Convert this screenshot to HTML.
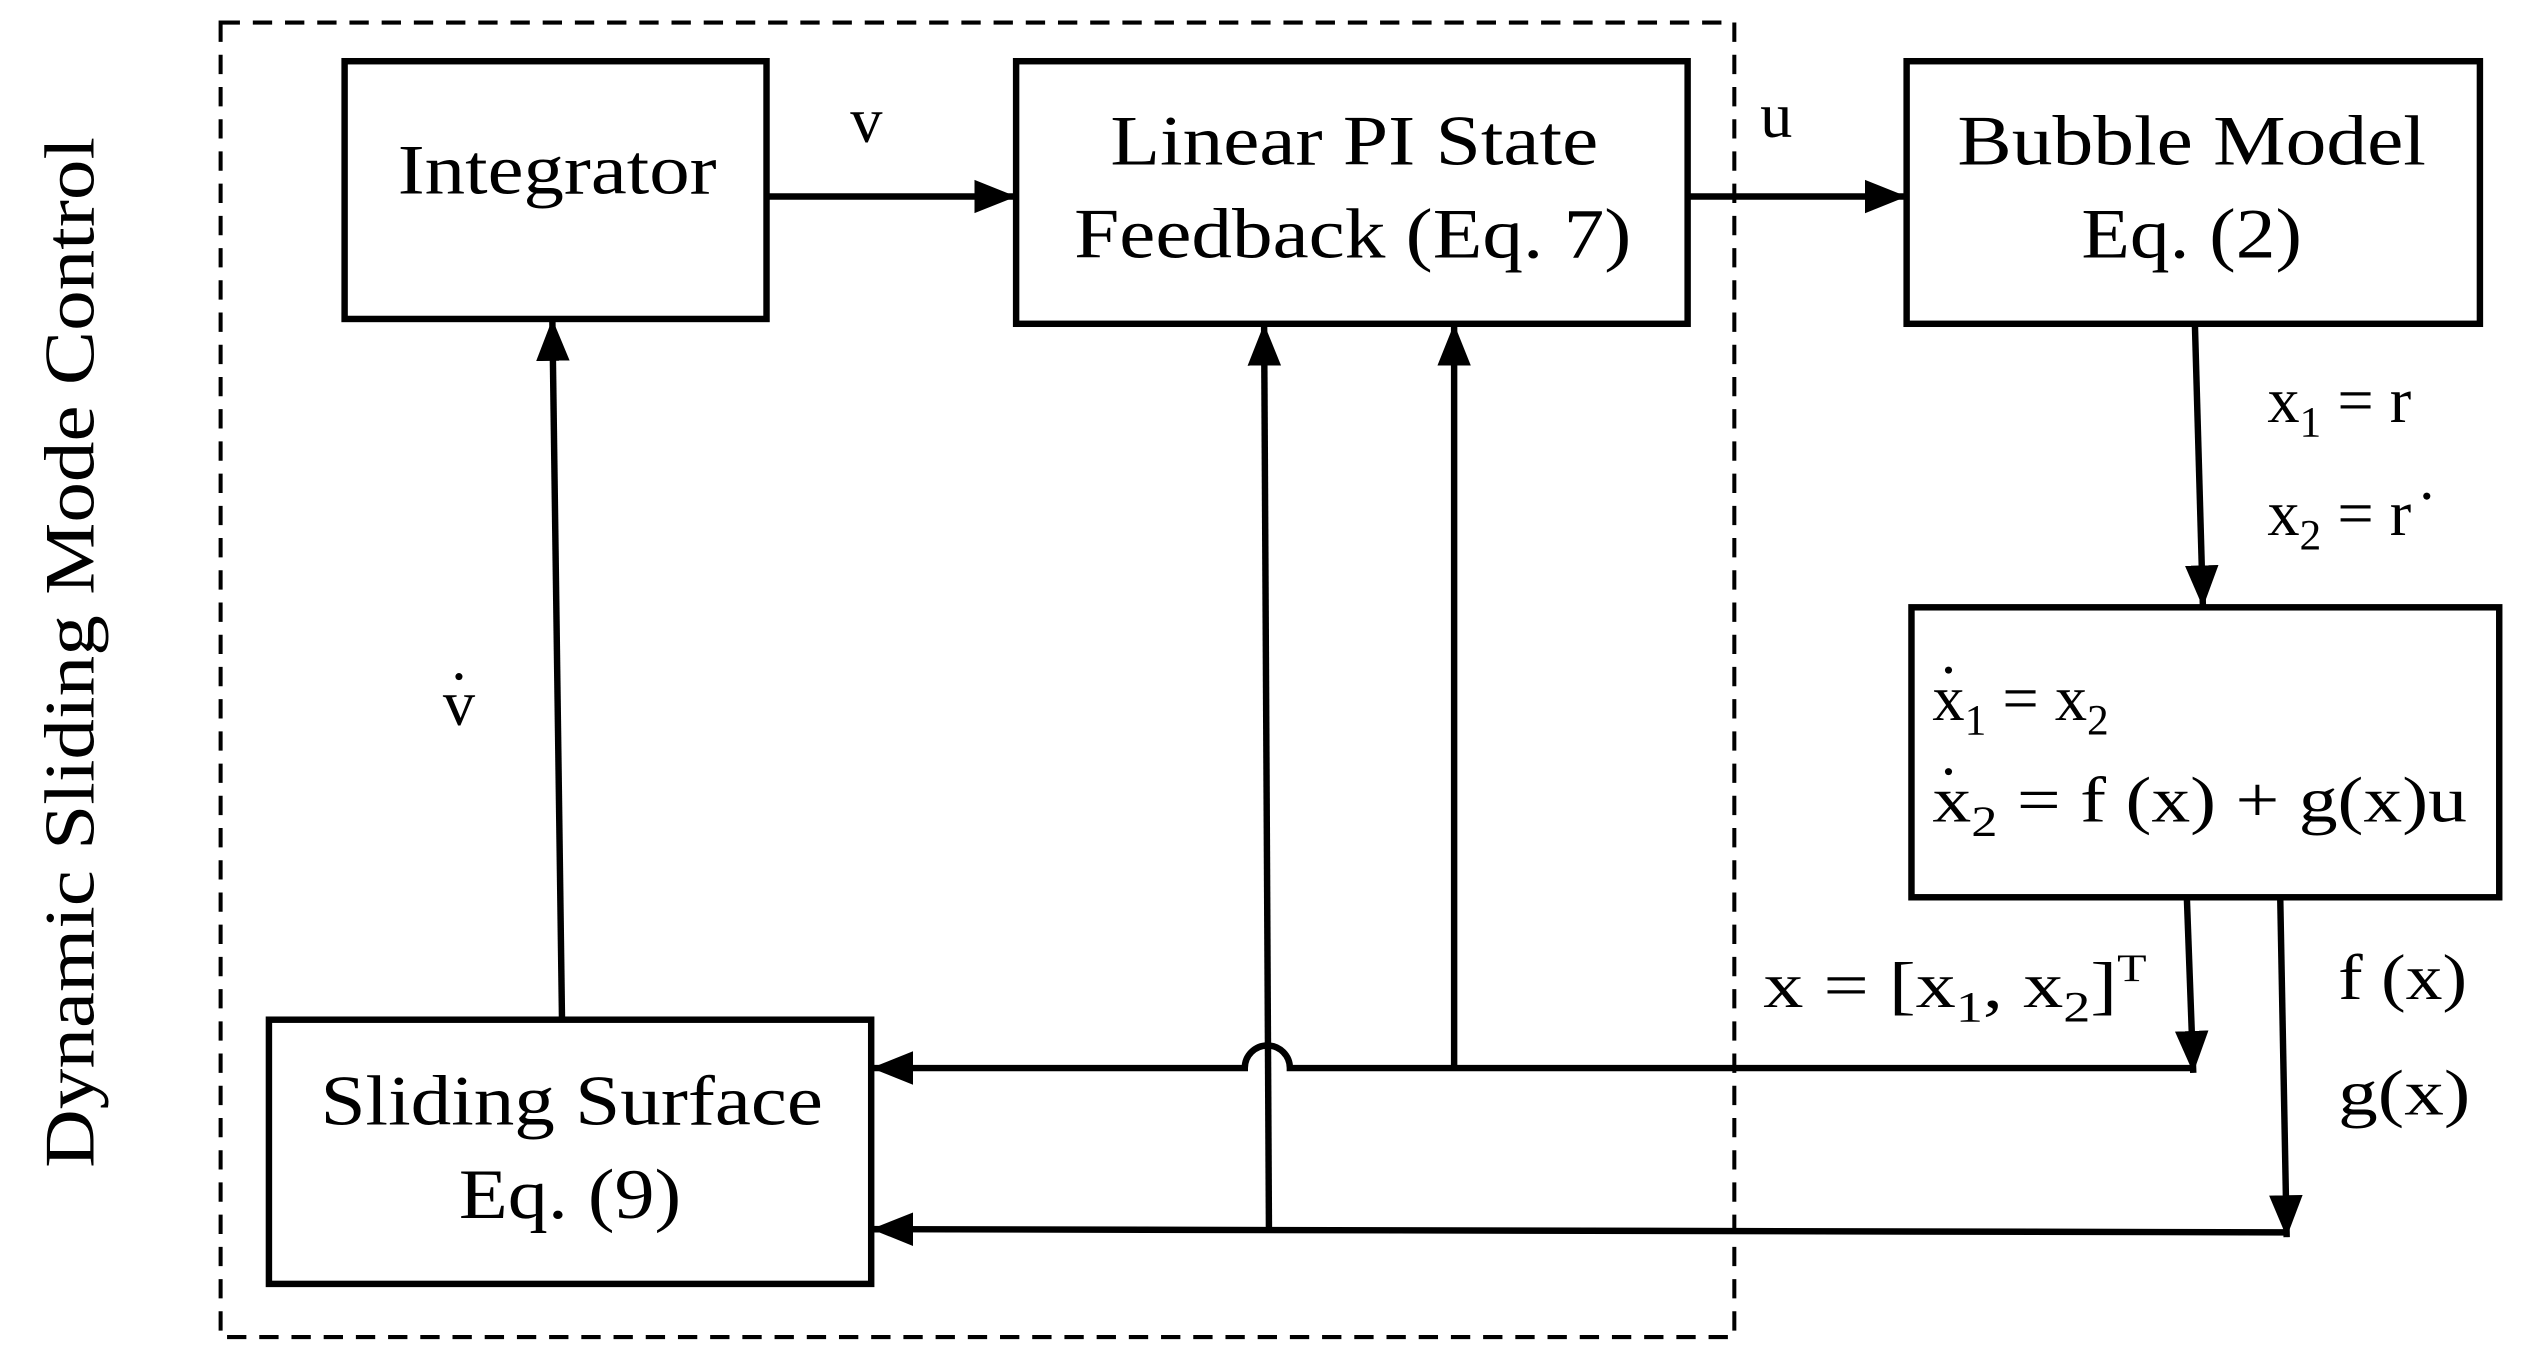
<!DOCTYPE html>
<html><head><meta charset="utf-8"><style>html,body{margin:0;padding:0;background:#fff}svg{display:block}</style></head>
<body>
<svg width="2525" height="1358" viewBox="0 0 1568 843" preserveAspectRatio="none" xmlns="http://www.w3.org/2000/svg" font-family="Liberation Serif, serif" fill="#000">
<defs>
<marker id="b" viewBox="0 0 10 10" refX="10" refY="5" markerWidth="26" markerHeight="26" orient="auto" markerUnits="userSpaceOnUse"><path d="M0,1 L10,5 L0,9z"/></marker></defs>
<rect x="137" y="14" width="940" height="816" fill="none" stroke="#000" stroke-width="2.5" stroke-dasharray="12,8"/>
<g fill="none" stroke="#000" stroke-width="4">
<rect x="214" y="38" width="262" height="160"/>
<rect x="631" y="38" width="417" height="163"/>
<rect x="1184" y="38" width="356" height="163"/>
<rect x="1187" y="377" width="365" height="180"/>
<rect x="167" y="633" width="374" height="164"/>
<line x1="476" y1="122" x2="631" y2="122" marker-end="url(#b)"/>
<line x1="1048" y1="122" x2="1184" y2="122" marker-end="url(#b)"/>
<line x1="1363" y1="201" x2="1368" y2="377" marker-end="url(#b)"/>
<line x1="349" y1="633" x2="343" y2="198" marker-end="url(#b)"/>
<line x1="1358" y1="557" x2="1362" y2="666" marker-end="url(#b)"/>
<line x1="1416" y1="557" x2="1420" y2="768" marker-end="url(#b)"/>
<path d="M1362,663 L801,663 A13,13 0 0 0 773,663 L541,663" marker-end="url(#b)"/>
<line x1="1420" y1="765" x2="541" y2="763" marker-end="url(#b)"/>
<line x1="903" y1="663" x2="903" y2="201" marker-end="url(#b)"/>
<line x1="788" y1="763" x2="785" y2="201" marker-end="url(#b)"/>
</g>
<g font-size="44" text-anchor="middle" lengthAdjust="spacingAndGlyphs">
<text x="346" y="120" textLength="198" lengthAdjust="spacingAndGlyphs">Integrator</text>
<text x="841" y="102" textLength="303" lengthAdjust="spacingAndGlyphs">Linear PI State</text>
<text x="840" y="160" textLength="346" lengthAdjust="spacingAndGlyphs">Feedback (Eq. 7)</text>
<text x="1361" y="102" textLength="291" lengthAdjust="spacingAndGlyphs">Bubble Model</text>
<text x="1361" y="160" textLength="137" lengthAdjust="spacingAndGlyphs">Eq. (2)</text>
<text x="355" y="698" textLength="312" lengthAdjust="spacingAndGlyphs">Sliding Surface</text>
<text x="354" y="756" textLength="138" lengthAdjust="spacingAndGlyphs">Eq. (9)</text>
</g>
<g font-size="40">
<text x="528" y="88">v</text>
<text x="1093" y="85">u</text>
<text x="275" y="450">v</text><circle cx="285" cy="420" r="2.2"/>
<text x="1408" y="262">x<tspan font-size="27" dy="9">1</tspan><tspan dy="-9"> = r</tspan></text>
<text x="1408" y="332">x<tspan font-size="27" dy="9">2</tspan><tspan dy="-9"> = r</tspan></text><circle cx="1507" cy="308" r="2.2"/>
<text x="1200" y="447">x<tspan font-size="27" dy="9">1</tspan><tspan dy="-9"> = x</tspan><tspan font-size="27" dy="9">2</tspan></text><circle cx="1210" cy="416" r="2.2"/>
<text x="1200" y="510" textLength="332" lengthAdjust="spacingAndGlyphs">x<tspan font-size="27" dy="9">2</tspan><tspan dy="-9"> = f (x) + g(x)u</tspan></text><circle cx="1210" cy="479" r="2.2"/>
<text x="1095" y="625" textLength="238" lengthAdjust="spacingAndGlyphs">x = [x<tspan font-size="27" dy="9">1</tspan><tspan dy="-9">, x</tspan><tspan font-size="27" dy="9">2</tspan><tspan dy="-9">]</tspan><tspan font-size="24" dy="-16">T</tspan></text>
<text x="1452" y="620" textLength="80" lengthAdjust="spacingAndGlyphs">f (x)</text>
<text x="1452" y="692" textLength="82" lengthAdjust="spacingAndGlyphs">g(x)</text>
</g>
<text transform="translate(58,405) rotate(-90)" font-size="44" text-anchor="middle" textLength="640" lengthAdjust="spacingAndGlyphs">Dynamic Sliding Mode Control</text>
</svg>
</body></html>
